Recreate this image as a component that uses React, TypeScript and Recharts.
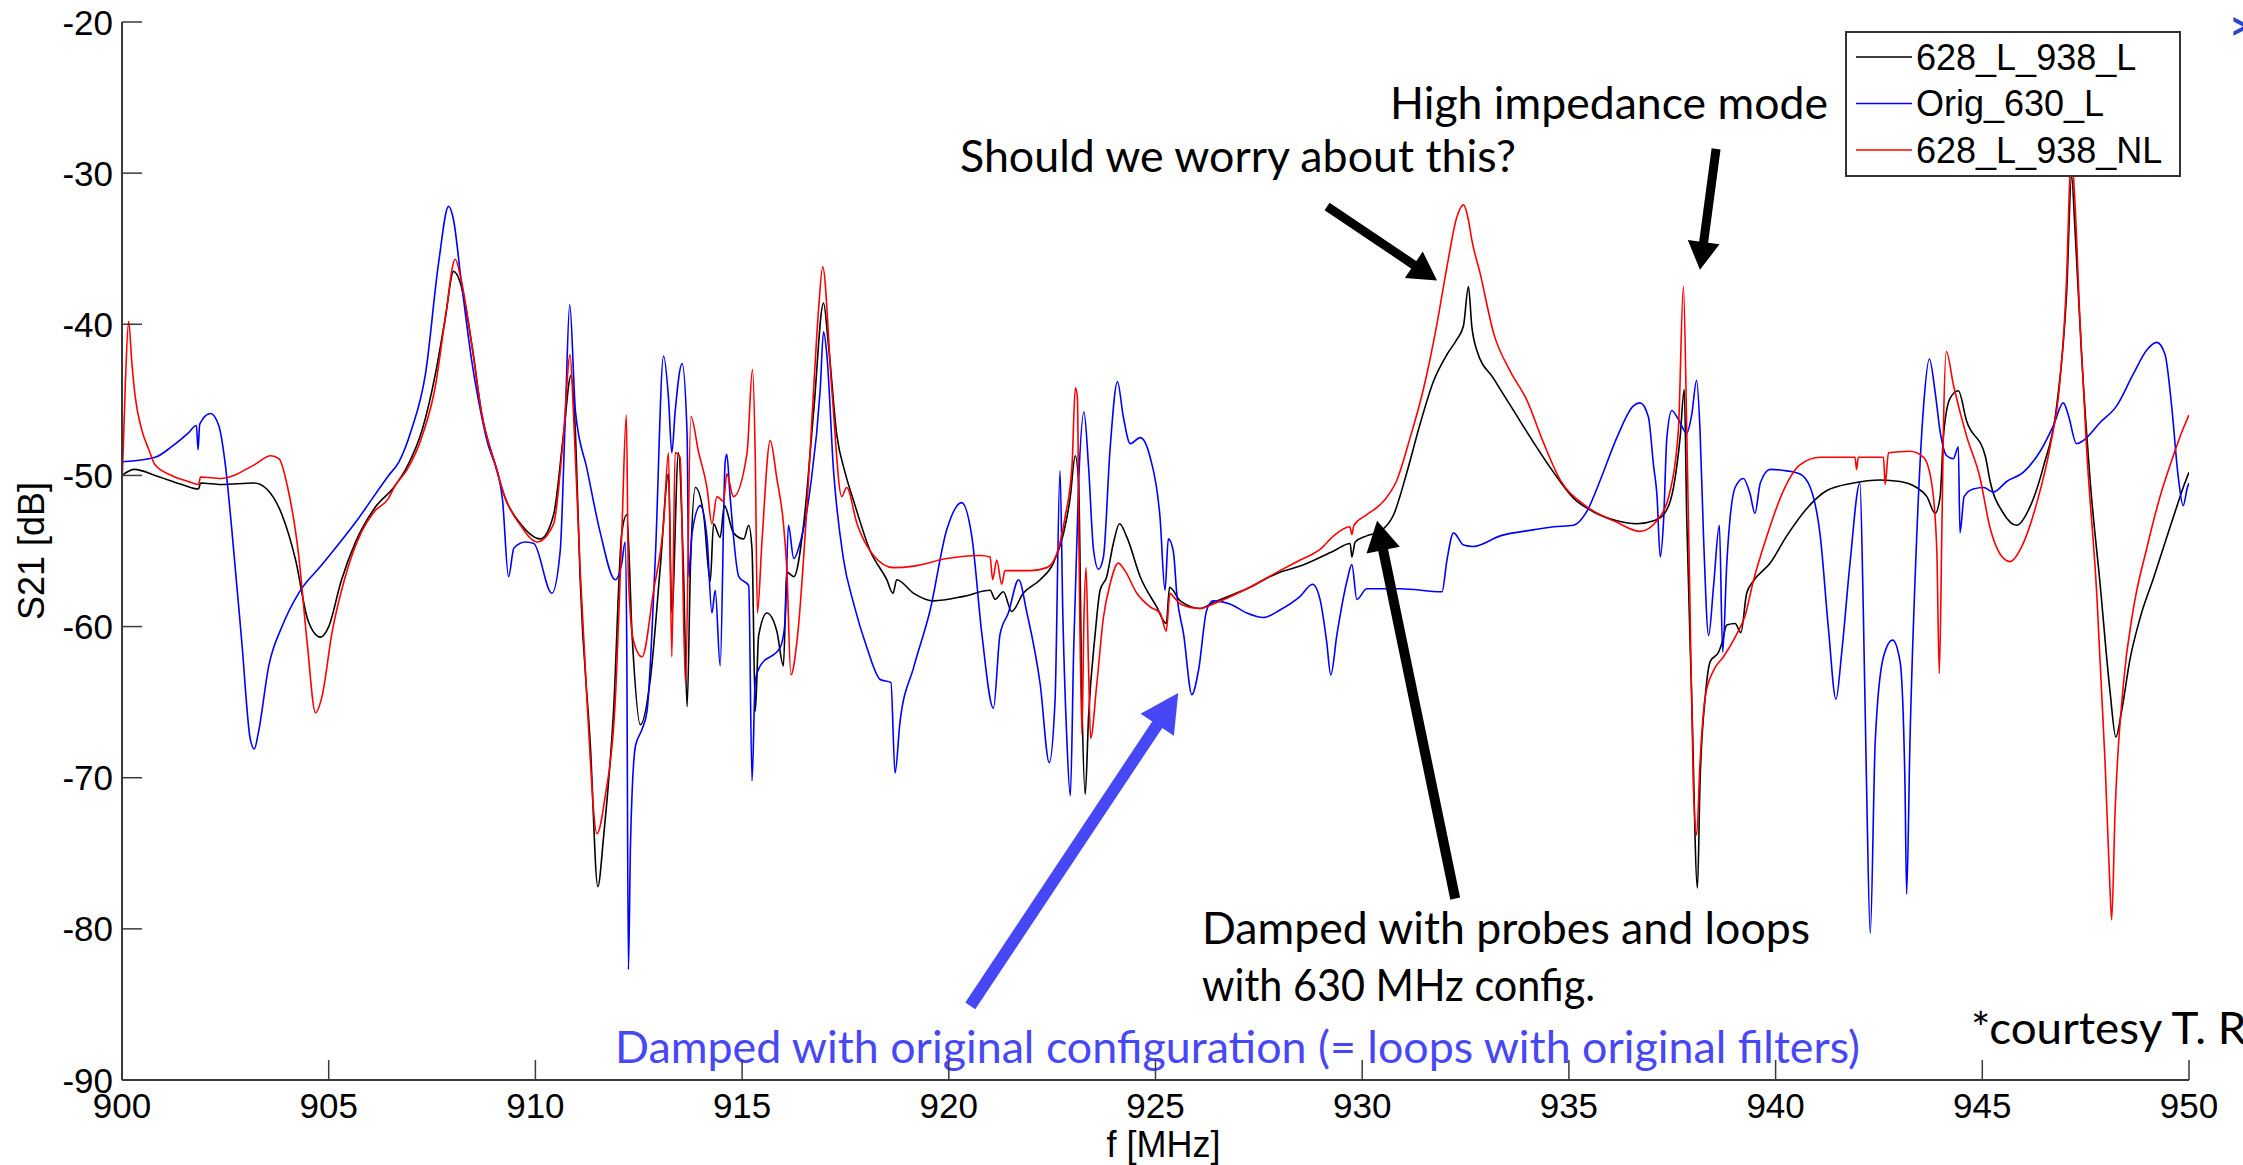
import React from 'react';
import { LineChart, Line, XAxis, YAxis, Legend, ReferenceLine, Customized } from 'recharts';

const CHART_W = 2243;
const CHART_H = 1165;

const FREQ_TICKS = [900, 905, 910, 915, 920, 925, 930, 935, 940, 945, 950];
const DB_TICKS = [-90, -80, -70, -60, -50, -40, -30, -20];

// S21 traces: [frequency in MHz, S21 in dB]
const trace628L938L: [number, number][] = [
  [900.0, -50.0], [900.3, -49.6], [900.8, -50.0], [901.45, -50.6], [901.85, -50.9], [901.9, -50.5], [902.4, -50.6],
  [903.2, -50.5], [903.5, -50.9], [903.87, -52.6], [904.2, -55.6], [904.5, -59.6], [904.8, -60.7], [905.0, -60.0],
  [905.3, -57.0], [905.65, -54.4], [906.1, -52.2], [906.6, -50.7], [906.9, -49.4], [907.26, -47.0], [907.58, -43.3],
  [907.82, -39.6], [908.02, -36.5], [908.2, -37.4], [908.47, -41.5], [908.7, -45.9], [909.03, -49.3], [909.27, -51.5],
  [909.64, -53.2], [910.12, -54.2], [910.44, -52.6], [910.68, -47.3], [910.86, -43.4], [910.97, -47.3], [911.08, -56.7],
  [911.33, -67.9], [911.51, -77.2], [911.65, -73.9], [911.89, -65.6], [912.09, -53.8], [912.21, -52.6], [912.34, -60.6],
  [912.54, -66.5], [912.78, -63.5], [913.02, -56.1], [913.22, -49.9], [913.3, -59.1], [913.46, -48.5], [913.58, -56.1],
  [913.67, -65.3], [913.75, -56.1], [913.87, -50.8], [914.07, -52.6], [914.23, -57.0], [914.31, -53.2], [914.47, -54.1],
  [914.57, -52.0], [914.79, -53.8], [915.04, -54.2], [915.16, -53.3], [915.24, -54.9], [915.32, -65.6], [915.4, -60.6],
  [915.6, -59.1], [915.84, -60.3], [916.0, -62.6], [916.08, -56.4], [916.25, -56.7], [916.49, -53.2], [916.73, -45.8],
  [916.97, -38.6], [917.09, -41.4], [917.29, -47.3], [917.49, -49.8], [917.7, -51.7], [918.1, -55.0], [918.5, -56.9],
  [918.65, -57.8], [918.74, -56.9], [919.15, -57.8], [919.63, -58.3], [920.36, -58.0], [921.0, -57.6], [921.12, -58.2],
  [921.32, -57.7], [921.52, -59.0], [921.8, -57.8], [922.21, -56.9], [922.53, -55.8], [922.77, -53.9], [922.93, -51.6],
  [923.06, -48.7], [923.14, -50.5], [923.22, -64.9], [923.3, -71.1], [923.38, -66.0], [923.54, -60.5], [923.66, -57.6],
  [923.82, -56.7], [923.98, -54.5], [924.13, -53.2], [924.31, -54.1], [924.63, -56.7], [925.03, -58.7], [925.26, -59.8],
  [925.34, -57.4], [925.6, -58.3], [926.08, -58.8], [926.4, -58.4], [927.21, -57.5], [928.01, -56.4], [928.5, -56.0],
  [929.31, -55.0], [929.71, -54.5], [929.75, -55.4], [929.83, -54.4], [930.11, -54.0], [930.43, -53.7], [930.76, -52.6],
  [931.08, -49.8], [931.4, -46.6], [931.72, -43.8], [932.05, -42.0], [932.29, -41.0], [932.45, -40.1], [932.57, -37.5],
  [932.65, -40.1], [932.77, -41.7], [933.18, -43.6], [933.66, -45.7], [934.14, -47.8], [934.63, -49.8], [935.11, -51.5],
  [935.59, -52.4], [936.16, -53.0], [936.64, -53.2], [937.05, -53.0], [937.29, -52.6], [937.53, -50.8], [937.69, -47.5],
  [937.79, -44.3], [937.85, -52.8], [937.97, -64.6], [938.11, -77.3], [938.17, -70.5], [938.3, -64.6], [938.42, -62.3],
  [938.62, -61.7], [938.7, -61.1], [938.82, -59.9], [939.02, -59.8], [939.16, -60.4], [939.3, -57.8], [939.46, -57.0],
  [939.87, -55.8], [940.27, -54.0], [940.75, -52.2], [941.24, -51.0], [941.88, -50.5], [942.53, -50.3], [943.01, -50.4],
  [943.41, -50.8], [943.66, -51.4], [943.86, -52.5], [943.98, -51.4], [944.06, -47.4], [944.22, -44.9], [944.42, -44.4],
  [944.62, -46.4], [945.07, -48.7], [945.19, -50.4], [945.51, -52.5], [945.83, -53.3], [946.15, -52.1], [946.48, -49.4],
  [946.8, -45.4], [947.04, -37.9], [947.16, -30.2], [947.24, -33.6], [947.4, -42.0], [947.61, -50.4], [947.85, -57.2],
  [948.09, -64.3], [948.23, -67.3], [948.37, -65.6], [948.57, -62.2], [948.81, -59.5], [949.14, -56.8], [949.46, -54.1],
  [949.7, -52.1], [949.86, -50.8], [950.0, -49.8],
];

const traceOrig630L: [number, number][] = [
  [900.0, -49.1], [900.8, -48.8], [901.2, -48.1], [901.6, -47.2], [901.8, -46.7], [901.84, -48.3], [901.88, -46.6],
  [902.14, -45.9], [902.34, -46.7], [902.5, -49.3], [902.66, -53.7], [902.9, -61.1], [903.1, -67.4], [903.2, -68.1],
  [903.3, -67.0], [903.55, -62.6], [903.87, -60.0], [904.27, -57.8], [904.84, -55.9], [905.65, -53.1], [906.45, -50.0],
  [906.7, -49.1], [907.0, -47.0], [907.34, -43.3], [907.66, -35.9], [907.9, -32.2], [908.02, -33.1], [908.2, -37.0],
  [908.47, -42.6], [908.8, -47.4], [909.2, -51.5], [909.35, -56.7], [909.48, -54.8], [909.76, -54.4], [909.96, -54.5],
  [910.4, -57.8], [910.6, -55.0], [910.72, -46.4], [910.83, -38.7], [910.97, -45.8], [911.25, -49.6], [911.57, -53.8],
  [911.93, -56.9], [912.09, -55.8], [912.17, -54.4], [912.21, -61.2], [912.25, -82.7], [912.3, -74.4], [912.42, -67.9],
  [912.58, -66.8], [912.7, -65.6], [912.9, -55.5], [913.1, -42.1], [913.22, -44.9], [913.3, -48.5], [913.38, -45.8],
  [913.55, -42.6], [913.67, -47.3], [913.71, -56.7], [913.79, -53.8], [913.99, -52.0], [914.15, -54.1], [914.27, -59.1],
  [914.35, -57.6], [914.47, -62.6], [914.59, -49.1], [914.63, -48.6], [914.71, -51.4], [914.92, -56.7], [915.16, -57.3],
  [915.24, -70.2], [915.32, -63.5], [915.44, -62.6], [915.92, -61.4], [916.04, -59.7], [916.12, -53.3], [916.25, -55.5],
  [916.41, -54.4], [916.65, -50.8], [916.89, -44.3], [916.97, -40.5], [917.05, -42.0], [917.21, -49.6], [917.45, -55.5],
  [917.7, -58.5], [918.02, -61.4], [918.34, -63.5], [918.6, -63.7], [918.7, -69.7], [918.82, -66.3], [919.15, -62.7],
  [919.55, -58.9], [919.95, -53.6], [920.31, -51.8], [920.56, -54.1], [920.8, -60.5], [921.08, -65.4], [921.24, -60.5],
  [921.44, -59.1], [921.69, -56.9], [921.89, -59.1], [922.21, -63.8], [922.43, -69.0], [922.57, -64.9], [922.69, -49.7],
  [922.76, -59.4], [922.85, -67.1], [922.94, -71.2], [923.02, -61.6], [923.14, -50.5], [923.27, -45.8], [923.38, -49.4],
  [923.5, -54.9], [923.62, -56.2], [923.74, -55.4], [923.9, -48.3], [924.08, -43.8], [924.22, -46.1], [924.39, -47.9],
  [924.63, -47.5], [924.87, -48.8], [925.11, -52.8], [925.23, -57.6], [925.31, -54.2], [925.43, -55.0], [925.52, -58.0],
  [925.68, -60.5], [925.88, -64.5], [926.04, -62.9], [926.24, -58.9], [926.4, -58.3], [926.8, -58.5], [927.21, -59.1],
  [927.61, -59.4], [928.01, -58.9], [928.5, -58.0], [928.8, -57.2], [928.98, -58.2], [929.14, -61.0], [929.24, -63.2],
  [929.39, -60.5], [929.63, -57.0], [929.75, -55.9], [929.87, -58.2], [930.11, -57.5], [930.92, -57.5], [931.93, -57.7],
  [932.05, -55.6], [932.21, -53.8], [932.45, -54.6], [932.69, -54.7], [933.34, -54.0], [934.14, -53.6], [934.63, -53.4],
  [935.11, -53.3], [935.43, -52.4], [935.76, -50.3], [936.16, -47.5], [936.56, -45.4], [936.72, -45.2], [936.92, -46.1],
  [937.05, -49.4], [937.13, -51.3], [937.21, -55.4], [937.29, -53.0], [937.37, -47.5], [937.49, -45.7], [937.65, -46.3],
  [937.85, -47.2], [937.97, -46.0], [938.09, -43.7], [938.17, -46.9], [938.26, -54.3], [938.38, -60.6], [938.5, -57.3],
  [938.64, -53.3], [938.72, -61.7], [938.82, -55.8], [939.02, -50.8], [939.22, -50.2], [939.38, -51.2], [939.5, -52.5],
  [939.63, -50.5], [939.87, -49.6], [940.27, -49.7], [940.59, -49.9], [940.84, -50.8], [941.08, -54.0], [941.28, -60.2],
  [941.46, -64.8], [941.6, -61.7], [941.8, -55.8], [942.04, -50.5], [942.12, -58.7], [942.2, -70.5], [942.29, -80.3],
  [942.41, -67.6], [942.61, -62.0], [942.83, -60.9], [943.01, -62.3], [943.13, -70.5], [943.17, -77.7], [943.25, -67.6],
  [943.41, -54.3], [943.58, -45.4], [943.72, -42.3], [943.86, -44.5], [943.98, -47.1], [944.14, -48.7], [944.3, -48.9],
  [944.42, -48.1], [944.46, -53.8], [944.56, -51.4], [944.78, -50.9], [945.03, -50.8], [945.27, -51.1], [945.59, -50.4],
  [945.99, -49.8], [946.4, -48.4], [946.72, -46.7], [946.96, -45.2], [947.08, -46.0], [947.28, -47.9], [947.44, -47.7],
  [947.85, -46.5], [948.25, -45.4], [948.65, -43.3], [948.98, -41.7], [949.22, -41.2], [949.42, -42.0], [949.58, -45.4],
  [949.74, -50.1], [949.86, -52.0], [949.96, -50.8], [950.0, -50.5],
];

const trace628L938NL: [number, number][] = [
  [900.0, -50.7], [900.08, -44.0], [900.16, -39.8], [900.24, -42.6], [900.32, -44.8], [900.48, -47.0], [900.65, -48.3],
  [900.8, -49.3], [901.2, -50.0], [901.6, -50.4],
  [901.85, -50.6], [901.9, -50.1], [902.4, -50.2], [903.2, -49.3], [903.6, -48.7], [903.8, -48.9], [904.0, -50.7],
  [904.27, -55.2], [904.48, -61.1], [904.68, -65.7], [904.84, -64.6], [905.08, -60.4], [905.4, -56.7], [905.8, -53.7],
  [906.1, -52.4], [906.45, -51.5], [906.6, -50.7], [906.9, -49.6], [907.26, -47.4], [907.58, -44.1], [907.82, -39.6],
  [908.06, -35.7], [908.2, -37.0], [908.47, -41.5], [908.7, -45.9], [909.03, -49.3], [909.27, -51.5], [909.64, -53.3],
  [910.04, -54.4], [910.44, -53.2], [910.68, -47.3], [910.84, -42.0], [910.92, -45.8], [911.08, -56.1], [911.25, -65.0],
  [911.49, -73.7], [911.69, -71.2], [911.93, -65.0], [912.09, -53.8], [912.2, -46.0], [912.25, -56.7], [912.37, -60.9],
  [912.58, -62.0], [912.86, -57.6], [913.1, -53.2], [913.22, -48.5], [913.3, -62.0], [913.38, -48.5], [913.5, -48.8],
  [913.63, -63.8], [913.76, -46.1], [913.95, -48.5], [914.15, -50.8], [914.27, -53.2], [914.39, -51.4], [914.55, -51.7],
  [914.63, -49.9], [914.79, -51.4], [915.12, -48.5], [915.25, -43.0], [915.32, -49.1], [915.37, -59.1], [915.48, -54.4],
  [915.68, -47.7], [915.84, -50.2], [916.0, -53.2], [916.08, -56.1], [916.18, -63.2], [916.33, -60.9], [916.57, -52.0],
  [916.73, -44.3], [916.85, -39.0], [916.95, -36.2], [917.17, -44.3], [917.41, -51.4], [917.53, -50.8], [917.78, -53.2],
  [918.18, -55.3], [918.66, -56.1], [919.15, -56.0], [919.95, -55.5], [920.76, -55.3], [921.0, -55.4], [921.06, -56.9],
  [921.16, -55.6], [921.28, -57.2], [921.36, -56.3], [921.97, -56.3], [922.37, -56.1], [922.61, -55.2], [922.81, -52.8],
  [922.98, -49.4], [923.06, -44.2], [923.11, -44.8], [923.15, -54.9], [923.22, -67.1], [923.27, -59.4], [923.32, -56.1],
  [923.38, -62.7], [923.43, -67.4], [923.58, -63.8], [923.74, -59.4], [923.9, -57.2], [924.1, -55.8], [924.26, -56.3],
  [924.55, -57.8], [924.87, -58.7], [925.11, -59.1], [925.26, -60.3], [925.35, -57.8], [925.43, -58.0], [925.6, -58.5],
  [926.08, -58.8], [926.4, -58.5], [927.21, -57.5], [928.01, -56.3], [928.5, -55.6], [928.98, -54.9], [929.31, -54.0],
  [929.7, -53.4], [929.75, -53.9], [929.8, -53.3], [930.11, -52.6], [930.52, -51.7], [930.84, -50.3], [931.16, -47.5],
  [931.48, -44.3], [931.8, -40.1], [932.05, -36.2], [932.29, -32.9], [932.45, -32.1], [932.57, -33.1], [932.65, -34.4],
  [932.85, -36.6], [933.18, -40.6], [933.58, -43.1], [933.98, -45.0], [934.38, -47.8], [934.79, -50.3], [935.35, -51.9],
  [936.16, -53.1], [936.72, -53.7], [937.13, -53.0], [937.45, -51.0], [937.65, -46.9], [937.77, -37.5], [937.85, -46.9],
  [937.93, -58.7], [938.01, -70.5], [938.09, -73.8], [938.17, -69.1], [938.3, -64.6], [938.5, -62.9], [938.74, -62.0],
  [939.06, -60.5], [939.26, -59.3], [939.46, -57.0], [939.79, -54.0], [940.19, -51.0], [940.59, -49.3], [941.08, -48.8],
  [941.56, -48.8], [941.92, -48.8], [941.96, -49.6], [942.0, -48.8], [942.61, -48.8], [942.65, -50.6], [942.73, -48.5],
  [943.25, -48.4], [943.58, -48.8], [943.78, -50.6], [943.9, -55.0], [943.96, -63.1], [944.02, -54.0], [944.06, -46.9],
  [944.13, -41.8], [944.3, -44.0], [944.62, -47.4], [944.94, -50.1], [945.19, -53.5], [945.43, -55.2], [945.67, -55.7],
  [945.99, -54.5], [946.32, -51.8], [946.64, -48.1], [946.88, -43.7], [947.04, -36.9], [947.12, -30.2], [947.16, -28.8],
  [947.24, -31.9], [947.36, -39.6], [947.52, -48.1], [947.77, -57.9], [947.97, -69.0], [948.09, -77.4], [948.13, -79.4],
  [948.21, -72.4], [948.41, -63.9], [948.65, -58.9], [948.98, -54.8], [949.3, -51.4], [949.62, -48.7], [949.86, -46.9],
  [950.0, -46.0],
];

const SERIES = [
  { name: '628_L_938_L', color: '#000000', points: trace628L938L },
  { name: 'Orig_630_L', color: '#0000ff', points: traceOrig630L },
  { name: '628_L_938_NL', color: '#ff0000', points: trace628L938NL },
];

// Callout arrows, anchored in (MHz, dB)
const CALLOUTS = [
  { id: 'worry', from: [929.15, -32.2], to: [931.81, -37.1], color: '#000000', shaft: 9, headLen: 28, headWid: 32 },
  { id: 'highZ', from: [938.56, -28.4], to: [938.17, -36.4], color: '#000000', shaft: 9, headLen: 28, headWid: 32 },
  { id: 'probes', from: [932.25, -78.0], to: [930.36, -53.0], color: '#000000', shaft: 10, headLen: 30, headWid: 34 },
  { id: 'orig', from: [920.52, -85.1], to: [925.55, -64.4], color: '#4747f5', shaft: 12, headLen: 38, headWid: 40 },
];

const AXIS_COLOR = '#3a3a3a';
const TICK_FONT = '"Liberation Sans", Arial, Helvetica, sans-serif';
const NOTE_FONT = 'Lato, "Open Sans", sans-serif';
const TICK_LEN = 20;

const BottomTick = (props: any) => {
  const { x, y, payload } = props;
  return (
    <g>
      <line x1={x} y1={y} x2={x} y2={y - TICK_LEN} stroke={AXIS_COLOR} strokeWidth={1.5} />
      <text x={x} y={y + 38} textAnchor="middle" fontSize={35} fontFamily={TICK_FONT} fill="#000">
        {payload.value}
      </text>
    </g>
  );
};

const TopTick = (props: any) => {
  const { x, y } = props;
  return <line x1={x} y1={y} x2={x} y2={y + TICK_LEN} stroke={AXIS_COLOR} strokeWidth={1.5} />;
};

const LeftTick = (props: any) => {
  const { x, y, payload } = props;
  return (
    <g>
      <line x1={x} y1={y} x2={x + TICK_LEN} y2={y} stroke={AXIS_COLOR} strokeWidth={1.5} />
      <text x={x - 9} y={y + 12.5} textAnchor="end" fontSize={35} fontFamily={TICK_FONT} fill="#000">
        {payload.value}
      </text>
    </g>
  );
};

const RightTick = (props: any) => {
  const { x, y } = props;
  return <line x1={x} y1={y} x2={x - TICK_LEN} y2={y} stroke={AXIS_COLOR} strokeWidth={1.5} />;
};

const ArrowShape = (props: any) => {
  const { x1, y1, x2, y2, color, shaft, headLen, headWid } = props;
  const dx = x2 - x1;
  const dy = y2 - y1;
  const len = Math.hypot(dx, dy) || 1;
  const ux = dx / len;
  const uy = dy / len;
  const bx = x2 - ux * headLen;
  const by = y2 - uy * headLen;
  const px = -uy * (headWid / 2);
  const py = ux * (headWid / 2);
  return (
    <g>
      <line x1={x1} y1={y1} x2={bx + ux * 2} y2={by + uy * 2} stroke={color} strokeWidth={shaft} />
      <polygon points={`${x2},${y2} ${bx + px},${by + py} ${bx - px},${by - py}`} fill={color} />
    </g>
  );
};

const LegendBox = (props: any) => {
  const payload: any[] = props.payload || [];
  const items = SERIES.map((s) => payload.find((p) => p.value === s.name) || { value: s.name, color: s.color });
  return (
    <svg width={336} height={146} style={{ display: 'block' }}>
      <rect x={1} y={1} width={334} height={144} fill="#ffffff" stroke="#333333" strokeWidth={2} />
      {items.map((it, i) => {
        const cy = 26 + i * 46.5;
        return (
          <g key={it.value}>
            <line x1={11} y1={cy} x2={67} y2={cy} stroke={it.color} strokeWidth={1.5} />
            <text x={71} y={cy + 12.5} fontSize={36} fontFamily={TICK_FONT} fill="#000">
              {it.value}
            </text>
          </g>
        );
      })}
    </svg>
  );
};

const Notes = () => (
  <g fontFamily={NOTE_FONT} fontSize={44}>
    <text x={960} y={172} fill="#000" textLength={556} lengthAdjust="spacingAndGlyphs">
      Should we worry about this?
    </text>
    <text x={1390} y={119} fill="#000" textLength={438} lengthAdjust="spacingAndGlyphs">
      High impedance mode
    </text>
    <text x={1202} y={944} fill="#000" textLength={608} lengthAdjust="spacingAndGlyphs">
      Damped with probes and loops
    </text>
    <text x={1202} y={1001} fill="#000" textLength={393} lengthAdjust="spacingAndGlyphs">
      with 630 MHz config.
    </text>
    <text x={615} y={1063} fill="#4747f5" textLength={1245} lengthAdjust="spacingAndGlyphs">
      Damped with original configuration (= loops with original filters)
    </text>
    <text x={1971} y={1044} fill="#000" textLength={300} lengthAdjust="spacingAndGlyphs">
      *courtesy T. Ro
    </text>
    <text x={2229} y={40} fill="#2946d0" fontSize={40} fontWeight={700}>
      &gt;
    </text>
  </g>
);

export default function App() {
  return (
    <div style={{ width: CHART_W, height: CHART_H, background: '#fff', position: 'relative' }}>
      <style>{'body{margin:0;background:#fff}'}</style>
      <LineChart width={CHART_W} height={CHART_H} margin={{ top: 22, right: 54, bottom: 0, left: 0 }}>
        <XAxis
          xAxisId="bottom"
          dataKey="f"
          type="number"
          domain={[900, 950]}
          ticks={FREQ_TICKS}
          interval={0}
          height={85}
          tickSize={0}
          tickMargin={0}
          tickLine={false}
          axisLine={{ stroke: AXIS_COLOR, strokeWidth: 2 }}
          tick={<BottomTick />}
          allowDataOverflow
          label={(p: any) => {
            const vb = p.viewBox || { x: 122, y: 1080, width: 2067 };
            return (
              <text x={vb.x + vb.width / 2 + 8} y={vb.y + 77} textAnchor="middle" fontSize={36} fontFamily={TICK_FONT} fill="#000">
                f [MHz]
              </text>
            );
          }}
        />
        <XAxis
          xAxisId="top"
          orientation="top"
          dataKey="f"
          type="number"
          domain={[900, 950]}
          ticks={FREQ_TICKS}
          interval={0}
          height={0}
          tickSize={0}
          tickMargin={0}
          tickLine={false}
          axisLine={{ stroke: AXIS_COLOR, strokeWidth: 2 }}
          tick={<TopTick />}
          allowDataOverflow
        />
        <YAxis
          yAxisId="left"
          type="number"
          domain={[-90, -20]}
          ticks={DB_TICKS}
          interval={0}
          width={122}
          tickSize={0}
          tickMargin={0}
          tickLine={false}
          axisLine={{ stroke: AXIS_COLOR, strokeWidth: 2 }}
          tick={<LeftTick />}
          allowDataOverflow
          label={(p: any) => {
            const vb = p.viewBox || { x: 0, y: 22, height: 1058 };
            const cx = vb.x + 44;
            const cy = vb.y + vb.height / 2;
            return (
              <text x={cx} y={cy} transform={`rotate(-90 ${cx} ${cy})`} textAnchor="middle" fontSize={36} fontFamily={TICK_FONT} fill="#000">
                S21 [dB]
              </text>
            );
          }}
        />
        <YAxis
          yAxisId="right"
          orientation="right"
          type="number"
          domain={[-90, -20]}
          ticks={DB_TICKS}
          interval={0}
          width={0}
          tickSize={0}
          tickMargin={0}
          tickLine={false}
          axisLine={{ stroke: AXIS_COLOR, strokeWidth: 2 }}
          tick={<RightTick />}
          allowDataOverflow
        />
        {SERIES.map((s) => (
          <Line
            key={s.name}
            name={s.name}
            xAxisId="bottom"
            yAxisId="left"
            data={s.points.map(([f, v]) => ({ f, v }))}
            dataKey="v"
            type="monotone"
            stroke={s.color}
            strokeWidth={1.6}
            dot={false}
            activeDot={false}
            isAnimationActive={false}
          />
        ))}
        {CALLOUTS.map((c) => (
          <ReferenceLine
            key={c.id}
            xAxisId="bottom"
            yAxisId="left"
            segment={[
              { x: c.from[0], y: c.from[1] },
              { x: c.to[0], y: c.to[1] },
            ]}
            shape={(p: any) => (
              <ArrowShape {...p} color={c.color} shaft={c.shaft} headLen={c.headLen} headWid={c.headWid} />
            )}
          />
        ))}
        <Customized component={<Notes />} />
        <Legend
          layout="vertical"
          align="center"
          verticalAlign="middle"
          content={(p: any) => <LegendBox {...p} />}
          wrapperStyle={{ left: 1845, top: 31, width: 336, height: 146 }}
        />
      </LineChart>
    </div>
  );
}
